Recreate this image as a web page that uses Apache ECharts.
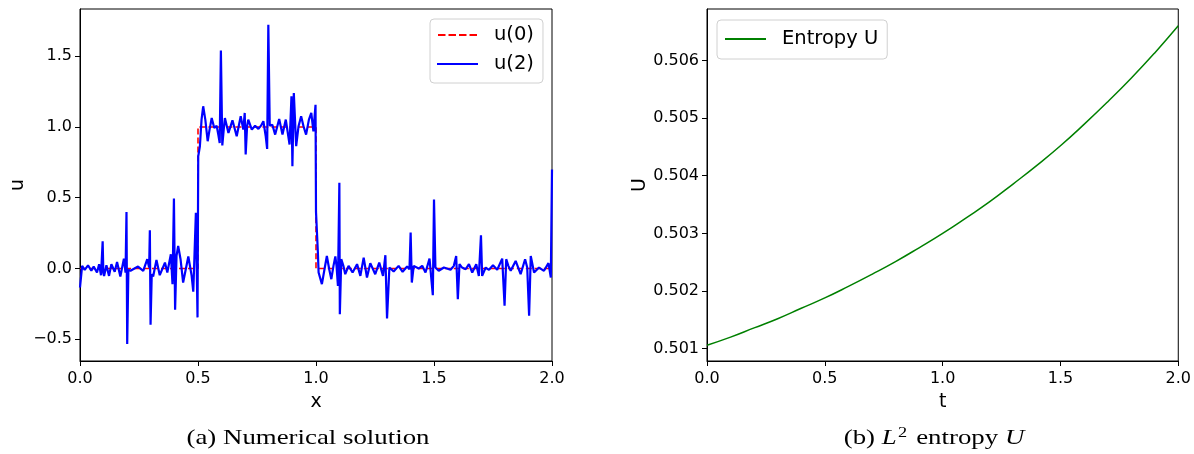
<!DOCTYPE html>
<html>
<head>
<meta charset="utf-8">
<script src="https://cdn.jsdelivr.net/npm/echarts@6/dist/echarts.min.js"></script>
<style>
html,body{margin:0;padding:0;background:#fff;}
#chart{width:1194px;height:454px;}
</style>
</head>
<body>
<div id="chart"></div>
<script>
// ---- Panel (a): initial condition u(0) ----
const u0X = [0.0, 0.5, 0.5, 1.0, 1.0, 2.0];
const u0Y = [0.0, 0.0, 1.0, 1.0, 0.0, 0.0];

// ---- Panel (a): numerical solution u(2) ----
const u2X = [
  0.000, 0.009, 0.020, 0.034, 0.048, 0.058, 0.072, 0.081, 0.089, 0.096, 0.099, 0.102,
  0.112, 0.123, 0.133, 0.147, 0.157, 0.171, 0.186, 0.193, 0.197, 0.200, 0.205, 0.214,
  0.225, 0.246, 0.268, 0.285, 0.293, 0.296, 0.299, 0.304, 0.310, 0.324, 0.338, 0.360,
  0.370, 0.385, 0.392, 0.398, 0.403, 0.409, 0.416, 0.426, 0.437, 0.459, 0.473, 0.480,
  0.491, 0.498, 0.501, 0.508, 0.515, 0.522, 0.531, 0.541, 0.549, 0.558, 0.569, 0.579,
  0.586, 0.592, 0.597, 0.603, 0.609, 0.614, 0.629, 0.646, 0.664, 0.681, 0.692, 0.698,
  0.702, 0.708, 0.713, 0.728, 0.742, 0.756, 0.767, 0.777, 0.787, 0.793, 0.798, 0.804,
  0.815, 0.827, 0.844, 0.858, 0.872, 0.888, 0.896, 0.900, 0.906, 0.916, 0.926, 0.937,
  0.947, 0.958, 0.970, 0.980, 0.989, 0.998, 1.000, 1.008, 1.011, 1.025, 1.036, 1.046,
  1.056, 1.065, 1.074, 1.082, 1.087, 1.093, 1.099, 1.101, 1.107, 1.116, 1.124, 1.138,
  1.155, 1.174, 1.188, 1.202, 1.216, 1.230, 1.251, 1.268, 1.284, 1.294, 1.301, 1.311,
  1.329, 1.350, 1.367, 1.386, 1.396, 1.401, 1.406, 1.414, 1.435, 1.450, 1.464, 1.481,
  1.495, 1.500, 1.506, 1.520, 1.542, 1.570, 1.584, 1.594, 1.601, 1.608, 1.619, 1.634,
  1.648, 1.662, 1.679, 1.690, 1.699, 1.704, 1.719, 1.733, 1.750, 1.768, 1.789, 1.799,
  1.806, 1.815, 1.825, 1.846, 1.867, 1.886, 1.895, 1.903, 1.910, 1.924, 1.945, 1.966,
  1.985, 1.995, 2.000
];
const u2Y = [
  -0.134, 0.019, -0.009, 0.023, -0.016, 0.014, -0.028, 0.031, -0.047, 0.192, -0.030, -0.052,
  0.023, -0.052, 0.031, -0.023, 0.047, -0.056, 0.070, -0.028, 0.400, -0.533, -0.009, -0.016,
  -0.005, 0.014, -0.016, 0.066, 0.007, 0.270, -0.397, -0.040, -0.056, 0.061, -0.047, 0.042,
  -0.028, 0.101, -0.110, 0.495, -0.291, 0.089, 0.160, 0.066, -0.099, 0.085, -0.050, -0.164,
  0.394, -0.345, 0.793, 0.864, 1.052, 1.146, 1.052, 0.899, 0.981, 1.063, 0.993, 1.009,
  0.946, 0.887, 1.540, 0.869, 0.981, 1.063, 0.958, 1.047, 0.934, 1.075, 0.981, 1.099,
  0.805, 1.005, 1.052, 0.981, 1.009, 0.986, 1.009, 1.040, 0.934, 0.845, 1.721, 1.009,
  1.016, 0.946, 1.056, 0.946, 1.052, 0.876, 1.216, 0.723, 1.239, 0.864, 1.005, 1.075,
  1.005, 0.946, 1.052, 1.099, 0.969, 1.157, 0.400, 0.113, -0.028, -0.110, -0.005, 0.089,
  -0.005, -0.075, 0.019, 0.085, 0.019, -0.122, 0.606, -0.322, 0.066, 0.019, -0.040, 0.019,
  -0.028, 0.031, -0.052, 0.077, -0.063, 0.038, -0.040, 0.042, -0.052, 0.094, -0.352, 0.007,
  -0.021, 0.019, -0.023, 0.014, -0.005, 0.254, -0.099, 0.019, 0.000, 0.019, -0.028, 0.070,
  -0.188, 0.488, 0.007, -0.016, 0.007, -0.009, 0.019, 0.089, -0.216, 0.031, 0.007, -0.005,
  0.031, -0.028, 0.031, -0.052, 0.235, -0.052, 0.007, -0.009, 0.023, -0.009, 0.070, -0.263,
  0.066, 0.019, -0.016, 0.054, -0.040, 0.066, 0.007, -0.333, 0.089, -0.028, 0.007, -0.016,
  0.038, -0.063, 0.700
];

// ---- Panel (b): L2 entropy U(t) ----
const entT = [0.0, 0.1, 0.2, 0.3, 0.4, 0.5, 0.6, 0.7, 0.8, 0.9, 1.0,
              1.1, 1.2, 1.3, 1.4, 1.5, 1.6, 1.7, 1.8, 1.9, 2.0];
const entU = [0.50106, 0.50120, 0.50136, 0.50152, 0.50170, 0.50188, 0.50208, 0.50229,
              0.50251, 0.50275, 0.50300, 0.50327, 0.50355, 0.50386, 0.50418, 0.50452,
              0.50489, 0.50528, 0.50569, 0.50613, 0.50660];

// ---- Tick labels ----
const xTicks = [0.0, 0.5, 1.0, 1.5, 2.0];
const uTicks = [-0.5, 0.0, 0.5, 1.0, 1.5];
const entTicks = [0.501, 0.502, 0.503, 0.504, 0.505, 0.506];

const pair = (xs, ys) => xs.map((x, i) => [x, ys[i]]);
const FONT = 'DejaVu Sans';
const TICK_FS = 16;
const NAME_FS = 19;
const LEG_FS = 19.5;
const tickFmt1 = v => (v < 0 ? '\u2212' : '') + Math.abs(v).toFixed(1);

// legend glyphs: dashed bar and solid bar
const DASH_ICON = 'path://M0,0h7.5v2h-7.5z M10.5,0h7.5v2h-7.5z M21,0h7.5v2h-7.5z M31.5,0h7.5v2h-7.5z';
const SOLID_ICON = 'path://M0,0h41v2h-41z';

function xAxisFor(gridIndex, name) {
  return {
    type: 'value', gridIndex, min: 0, max: 2, interval: 0.5,
    axisLine: {show: true, onZero: false, lineStyle: {color: '#000', width: 1}},
    axisTick: {show: true, length: 5, lineStyle: {color: '#000'}, customValues: xTicks},
    axisLabel: {color: '#000', fontFamily: FONT, fontSize: TICK_FS, margin: 10,
                formatter: v => v.toFixed(1), customValues: xTicks},
    splitLine: {show: false},
    name, nameLocation: 'middle', nameGap: 32,
    nameTextStyle: {color: '#000', fontFamily: FONT, fontSize: NAME_FS}
  };
}

const legendText = {color: '#000', fontFamily: FONT, fontSize: LEG_FS, lineHeight: 22, padding: [0, 0, 0, 11]};

const chart = echarts.init(document.getElementById('chart'), null, {renderer: 'canvas'});
chart.setOption({
  animation: false,
  backgroundColor: '#fff',
  grid: [
    {left: 80, top: 9, width: 472, height: 352, show: true, borderColor: '#000', borderWidth: 1, backgroundColor: 'transparent'},
    {left: 707, top: 9, width: 472, height: 352, show: true, borderColor: '#000', borderWidth: 1, backgroundColor: 'transparent'}
  ],
  xAxis: [xAxisFor(0, 'x'), xAxisFor(1, 't')],
  yAxis: [
    {
      type: 'value', gridIndex: 0, min: -0.653, max: 1.833,
      axisLine: {show: true, onZero: false, lineStyle: {color: '#000'}},
      axisTick: {show: true, length: 5, lineStyle: {color: '#000'}, customValues: uTicks},
      axisLabel: {color: '#000', fontFamily: FONT, fontSize: TICK_FS, margin: 8,
                  formatter: tickFmt1, customValues: uTicks},
      splitLine: {show: false},
      name: 'u', nameLocation: 'middle', nameGap: 52,
      nameTextStyle: {color: '#000', fontFamily: FONT, fontSize: NAME_FS}
    },
    {
      type: 'value', gridIndex: 1, min: 0.500786, max: 0.506892,
      axisLine: {show: true, onZero: false, lineStyle: {color: '#000'}},
      axisTick: {show: true, length: 5, lineStyle: {color: '#000'}, customValues: entTicks},
      axisLabel: {color: '#000', fontFamily: FONT, fontSize: TICK_FS, margin: 8,
                  formatter: v => v.toFixed(3), customValues: entTicks},
      splitLine: {show: false},
      name: 'U', nameLocation: 'middle', nameGap: 57,
      nameTextStyle: {color: '#000', fontFamily: FONT, fontSize: NAME_FS}
    }
  ],
  legend: [
    {
      data: [{name: 'u(0)', icon: DASH_ICON}, {name: 'u(2)', icon: SOLID_ICON}],
      orient: 'vertical', left: 430, top: 19,
      padding: [5, 9, 8, 7], itemGap: 7, itemWidth: 41, itemHeight: 2,
      backgroundColor: 'rgba(255,255,255,0.8)', borderColor: '#d0d0d0', borderWidth: 1, borderRadius: 4,
      textStyle: legendText
    },
    {
      data: [{name: 'Entropy U', icon: SOLID_ICON}],
      orient: 'vertical', left: 717, top: 20,
      padding: [8, 9, 9, 8], itemWidth: 41, itemHeight: 2,
      backgroundColor: 'rgba(255,255,255,0.8)', borderColor: '#d0d0d0', borderWidth: 1, borderRadius: 4,
      textStyle: legendText
    }
  ],
  series: [
    {
      name: 'u(0)', type: 'line', xAxisIndex: 0, yAxisIndex: 0, data: pair(u0X, u0Y),
      symbol: 'none', color: '#ff0000',
      lineStyle: {color: '#ff0000', width: 1.6, type: [6, 3]}, z: 2
    },
    {
      name: 'u(2)', type: 'line', xAxisIndex: 0, yAxisIndex: 0, data: pair(u2X, u2Y),
      symbol: 'none', color: '#0000ff',
      lineStyle: {color: '#0000ff', width: 2.2}, z: 3
    },
    {
      name: 'Entropy U', type: 'line', xAxisIndex: 1, yAxisIndex: 1, data: pair(entT, entU),
      symbol: 'none', smooth: true, color: '#008000',
      lineStyle: {color: '#008000', width: 1.5}
    }
  ],
  graphic: [
    {type: 'text', x: 308, y: 438, scaleX: 1.22,
     style: {text: '(a) Numerical solution', fill: '#000', font: '22px "Liberation Serif"',
             textAlign: 'center', textVerticalAlign: 'middle'}},
    {type: 'text', x: 934, y: 438, scaleX: 1.22,
     style: {text: '(b) {i|L}{sup|2} entropy {i|U}', fill: '#000', font: '22px "Liberation Serif"',
             textAlign: 'center', textVerticalAlign: 'middle',
             rich: {
               i: {fontFamily: 'Liberation Serif', fontStyle: 'italic', fontSize: 22},
               sup: {fontFamily: 'Liberation Serif', fontSize: 15, padding: [0, 2, 10, 1]}
             }}}
  ]
});
</script>
</body>
</html>
